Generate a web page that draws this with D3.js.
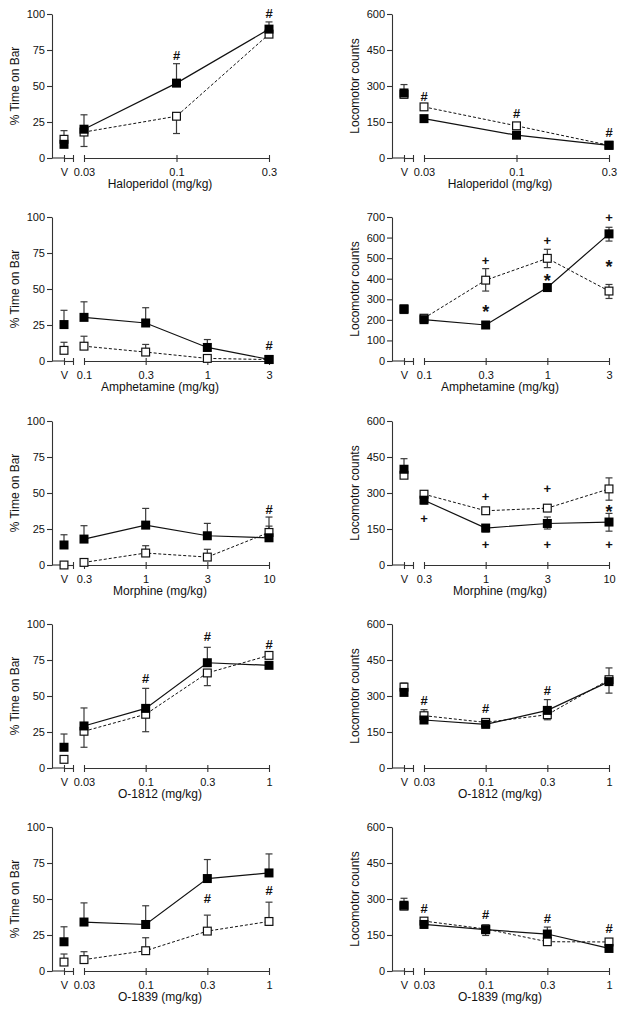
<!DOCTYPE html>
<html><head><meta charset="utf-8">
<script src="https://cdn.jsdelivr.net/npm/d3@7"></script>
<style>body{margin:0;background:#fff}svg{display:block}</style>
</head><body>
<svg id="c" width="626" height="1011"></svg>
<script>
// ---------- data (index 0 = vehicle "V") ----------
const haloDoses = ["0.03", "0.1", "0.3"];
const amphDoses = ["0.1", "0.3", "1", "3"];
const morphDoses = ["0.3", "1", "3", "10"];
const o1812Doses = ["0.03", "0.1", "0.3", "1"];
const o1839Doses = ["0.03", "0.1", "0.3", "1"];

const barTicks = [0, 25, 50, 75, 100];
const locoTicks = [0, 150, 300, 450, 600];
const amphLocoTicks = [0, 100, 200, 300, 400, 500, 600, 700];

// Haloperidol - % time on bar
const p1Filled = [9.5, 20, 52, 89.5];
const p1FilledHi = [null, 30, 65.5, 94.5];
const p1FilledLo = [null, null, null, null];
const p1Open = [13, 18, 29, 86];
const p1OpenHi = [19, null, null, null];
const p1OpenLo = [null, 8, 17, null];
const p1Marks = [["#", 2, 71], ["#", 3, 100.5]];

// Haloperidol - locomotor
const p2Filled = [271, 164, 95, 53];
const p2FilledHi = [306, null, null, null];
const p2FilledLo = [null, null, null, null];
const p2Open = [265, 213, 134, 53];
const p2OpenHi = [null, null, null, null];
const p2OpenLo = [null, null, null, null];
const p2Marks = [["#", 1, 259], ["#", 2, 188], ["#", 3, 109]];

// Amphetamine - % time on bar
const p3Filled = [25.3, 30.3, 26.4, 9.4, 1.1];
const p3FilledHi = [35.2, 41.1, 37, 14.9, null];
const p3FilledLo = [null, null, null, null, null];
const p3Open = [7.4, 10.3, 6.2, 1.8, 1];
const p3OpenHi = [13, 17.2, 11.5, null, null];
const p3OpenLo = [null, null, null, null, null];
const p3Marks = [["#", 4, 10.8]];

// Amphetamine - locomotor
const p4Filled = [254, 201, 175, 357, 618];
const p4FilledHi = [null, null, null, null, 650];
const p4FilledLo = [null, null, null, null, 583];
const p4Open = [250, 208, 393, 499, 340];
const p4OpenHi = [null, null, 449, 543, 372];
const p4OpenLo = [null, null, 340, 454, 304];
const p4Marks = [["+", 2, 489], ["*", 2, 261], ["+", 3, 586], ["*", 3, 411], ["+", 4, 696], ["*", 4, 478]];

// Morphine - % time on bar
const p5Filled = [13.9, 18, 27.7, 20.3, 18.9];
const p5FilledHi = [21, 27.3, 39.3, 28.9, 27];
const p5FilledLo = [null, null, null, null, null];
const p5Open = [0, 1.8, 8.3, 5.5, 22.6];
const p5OpenHi = [null, null, 13.4, 10.9, 33.3];
const p5OpenLo = [null, null, null, null, null];
const p5Marks = [["#", 4, 38.8]];

// Morphine - locomotor
const p6Filled = [399, 270, 154, 173, 179];
const p6FilledHi = [443, null, null, 200, 215];
const p6FilledLo = [null, 255, 138, 150, 141];
const p6Open = [374, 295, 226, 237, 317];
const p6OpenHi = [null, 305, null, null, 363];
const p6OpenLo = [null, null, null, null, 270];
const p6Marks = [["+", 1, 191], ["+", 2, 284], ["+", 2, 83], ["+", 3, 319], ["+", 3, 83], ["*", 4, 242], ["+", 4, 83]];

// O-1812 - % time on bar
const p7Filled = [14.4, 29.2, 41.4, 73.1, 71.3];
const p7FilledHi = [23.6, 41.7, 55.3, 83.8, null];
const p7FilledLo = [null, null, null, null, null];
const p7Open = [6, 25.5, 37.3, 66, 78.2];
const p7OpenHi = [null, null, null, null, null];
const p7OpenLo = [null, 14.4, 25.2, 57.2, null];
const p7Marks = [["#", 2, 62], ["#", 3, 91.4], ["#", 4, 85.6]];

// O-1812 - locomotor
const p8Filled = [315, 200, 182, 240, 360];
const p8FilledHi = [null, null, null, 285, null];
const p8FilledLo = [null, null, 168, null, 312];
const p8Open = [337, 218, 190, 222, 368];
const p8OpenHi = [354, 243, 205, null, 417];
const p8OpenLo = [null, null, null, 201, null];
const p8Marks = [["#", 1, 282], ["#", 2, 247], ["#", 3, 322]];

// O-1839 - % time on bar
const p9Filled = [20.3, 34, 32.3, 64.2, 68.1];
const p9FilledHi = [30.7, 47.3, 45.3, 77.4, 81.3];
const p9FilledLo = [null, null, null, null, null];
const p9Open = [6.2, 7.9, 14.1, 27.7, 34.4];
const p9OpenHi = [11.8, 13.4, 23.1, 38.8, 47.8];
const p9OpenLo = [null, null, null, null, null];
const p9Marks = [["#", 3, 50.8], ["#", 4, 56]];

// O-1839 - locomotor
const p10Filled = [274, 194, 172, 154, 94];
const p10FilledHi = [303, null, 192, 183, null];
const p10FilledLo = [null, 180, 148, null, null];
const p10Open = [270, 208, 175, 122, 121];
const p10OpenHi = [null, 215, null, null, null];
const p10OpenLo = [null, null, null, null, null];
const p10Marks = [["#", 1, 260], ["#", 2, 238], ["#", 3, 218], ["#", 4, 178]];

// ---------- drawing ----------
const svg = d3.select("#c");
const FONT = "'Liberation Sans', Arial, sans-serif";
const AX = "#333";

function panel(o) {
  const g = svg.append("g");
  const ax = o.ax, top = o.top, h = 144;
  const y = d3.scaleLinear().domain([0, o.ticks[o.ticks.length - 1]]).range([top + h, top]);
  const y0 = y(0);
  const xD = d3.scalePoint().domain(o.doses).range([ax + 32, ax + 217]);
  const xV = d3.scalePoint().domain(["V", "end"]).range([ax + 12, ax + 21]);
  const xc = i => i === 0 ? xV("V") : xD(o.doses[i - 1]);

  // y axis
  const ya = g.append("g").attr("transform", `translate(${ax},0)`)
    .call(d3.axisLeft(y).tickValues(o.ticks).tickSize(5).tickSizeOuter(0).tickPadding(2));
  // x axis: vehicle segment
  g.append("line").attr("x1", ax).attr("x2", xV("V")).attr("y1", y0).attr("y2", y0);
  const xa1 = g.append("g").attr("transform", `translate(0,${y0})`)
    .call(d3.axisBottom(xV).tickSize(4).tickSizeOuter(0).tickPadding(6).tickFormat(d => d === "V" ? "V" : ""));
  // x axis: dose segment
  const xa2 = g.append("g").attr("transform", `translate(0,${y0})`)
    .call(d3.axisBottom(xD).tickSize(4).tickSizeOuter(0).tickPadding(6));
  [xa1, xa2].forEach(a => a.selectAll(".tick line").attr("y1", -3));
  [ya, xa1, xa2].forEach(a => {
    a.selectAll("path,line").attr("stroke", AX).attr("stroke-width", 1.1);
    a.selectAll("text").attr("font-family", FONT).attr("font-size", 11).attr("fill", "#111");
  });
  g.selectAll(":scope > line").attr("stroke", AX).attr("stroke-width", 1.1);

  // titles
  g.append("text").attr("x", ax + 108).attr("y", y0 + 30).attr("text-anchor", "middle")
    .attr("font-family", FONT).attr("font-size", 12).attr("fill", "#111").text(o.xTitle);
  g.append("text").attr("transform", `translate(${ax - 37},${top + h / 2}) rotate(-90)`)
    .attr("text-anchor", "middle").attr("dy", "0.35em")
    .attr("font-family", FONT).attr("font-size", 12).attr("fill", "#111").text(o.yTitle);

  const line = d3.line().x(d => d[0]).y(d => d[1]);
  const pts = arr => arr.map((v, i) => [xc(i), y(v)]).slice(1);
  // connecting lines
  g.append("path").attr("d", line(pts(o.open))).attr("fill", "none")
    .attr("stroke", "#111").attr("stroke-width", 1).attr("stroke-dasharray", "3,2");
  g.append("path").attr("d", line(pts(o.filled))).attr("fill", "none")
    .attr("stroke", "#111").attr("stroke-width", 1.2);

  // error bars
  const err = (vals, ends) => ends.forEach((e, i) => {
    if (e == null) return;
    const x = xc(i);
    g.append("line").attr("x1", x).attr("x2", x).attr("y1", y(vals[i])).attr("y2", y(e))
      .attr("stroke", "#3a3a3a").attr("stroke-width", 1.2);
    g.append("line").attr("x1", x - 3.5).attr("x2", x + 3.5).attr("y1", y(e)).attr("y2", y(e))
      .attr("stroke", "#3a3a3a").attr("stroke-width", 1.2);
  });
  err(o.open, o.openHi); err(o.open, o.openLo);
  err(o.filled, o.filledHi); err(o.filled, o.filledLo);

  const s = 9;
  g.selectAll(null).data(o.open).enter().append("rect")
    .attr("x", (d, i) => xc(i) - s / 2 + 0.6).attr("y", d => y(d) - s / 2 + 0.6)
    .attr("width", s - 1.2).attr("height", s - 1.2)
    .attr("fill", "#fff").attr("stroke", "#111").attr("stroke-width", 1.2);
  g.selectAll(null).data(o.filled).enter().append("rect")
    .attr("x", (d, i) => xc(i) - s / 2).attr("y", d => y(d) - s / 2)
    .attr("width", s).attr("height", s).attr("fill", "#000");

  // significance marks
  const dyOf = {"*": "0.6em", "+": "0.33em", "#": "0.36em"};
  o.marks.forEach(m => {
    g.append("text").attr("x", xc(m[1])).attr("y", y(m[2]))
      .attr("dy", dyOf[m[0]])
      .attr("text-anchor", "middle").attr("font-family", FONT)
      .attr("font-size", m[0] === "*" ? 18 : 13).attr("font-weight", "bold").attr("fill", "#111").text(m[0]);
  });
}

const tops = [14, 217, 421, 624, 827];
const LX = 52, RX = 392;
const barLabel = "% Time on Bar", locoLabel = "Locomotor counts";
panel({ax: LX, top: tops[0], ticks: barTicks, doses: haloDoses, xTitle: "Haloperidol (mg/kg)", yTitle: barLabel,
  filled: p1Filled, filledHi: p1FilledHi, filledLo: p1FilledLo, open: p1Open, openHi: p1OpenHi, openLo: p1OpenLo, marks: p1Marks});
panel({ax: RX, top: tops[0], ticks: locoTicks, doses: haloDoses, xTitle: "Haloperidol (mg/kg)", yTitle: locoLabel,
  filled: p2Filled, filledHi: p2FilledHi, filledLo: p2FilledLo, open: p2Open, openHi: p2OpenHi, openLo: p2OpenLo, marks: p2Marks});
panel({ax: LX, top: tops[1], ticks: barTicks, doses: amphDoses, xTitle: "Amphetamine (mg/kg)", yTitle: barLabel,
  filled: p3Filled, filledHi: p3FilledHi, filledLo: p3FilledLo, open: p3Open, openHi: p3OpenHi, openLo: p3OpenLo, marks: p3Marks});
panel({ax: RX, top: tops[1], ticks: amphLocoTicks, doses: amphDoses, xTitle: "Amphetamine (mg/kg)", yTitle: locoLabel,
  filled: p4Filled, filledHi: p4FilledHi, filledLo: p4FilledLo, open: p4Open, openHi: p4OpenHi, openLo: p4OpenLo, marks: p4Marks});
panel({ax: LX, top: tops[2], ticks: barTicks, doses: morphDoses, xTitle: "Morphine (mg/kg)", yTitle: barLabel,
  filled: p5Filled, filledHi: p5FilledHi, filledLo: p5FilledLo, open: p5Open, openHi: p5OpenHi, openLo: p5OpenLo, marks: p5Marks});
panel({ax: RX, top: tops[2], ticks: locoTicks, doses: morphDoses, xTitle: "Morphine (mg/kg)", yTitle: locoLabel,
  filled: p6Filled, filledHi: p6FilledHi, filledLo: p6FilledLo, open: p6Open, openHi: p6OpenHi, openLo: p6OpenLo, marks: p6Marks});
panel({ax: LX, top: tops[3], ticks: barTicks, doses: o1812Doses, xTitle: "O-1812 (mg/kg)", yTitle: barLabel,
  filled: p7Filled, filledHi: p7FilledHi, filledLo: p7FilledLo, open: p7Open, openHi: p7OpenHi, openLo: p7OpenLo, marks: p7Marks});
panel({ax: RX, top: tops[3], ticks: locoTicks, doses: o1812Doses, xTitle: "O-1812 (mg/kg)", yTitle: locoLabel,
  filled: p8Filled, filledHi: p8FilledHi, filledLo: p8FilledLo, open: p8Open, openHi: p8OpenHi, openLo: p8OpenLo, marks: p8Marks});
panel({ax: LX, top: tops[4], ticks: barTicks, doses: o1839Doses, xTitle: "O-1839 (mg/kg)", yTitle: barLabel,
  filled: p9Filled, filledHi: p9FilledHi, filledLo: p9FilledLo, open: p9Open, openHi: p9OpenHi, openLo: p9OpenLo, marks: p9Marks});
panel({ax: RX, top: tops[4], ticks: locoTicks, doses: o1839Doses, xTitle: "O-1839 (mg/kg)", yTitle: locoLabel,
  filled: p10Filled, filledHi: p10FilledHi, filledLo: p10FilledLo, open: p10Open, openHi: p10OpenHi, openLo: p10OpenLo, marks: p10Marks});
</script>
</body></html>
